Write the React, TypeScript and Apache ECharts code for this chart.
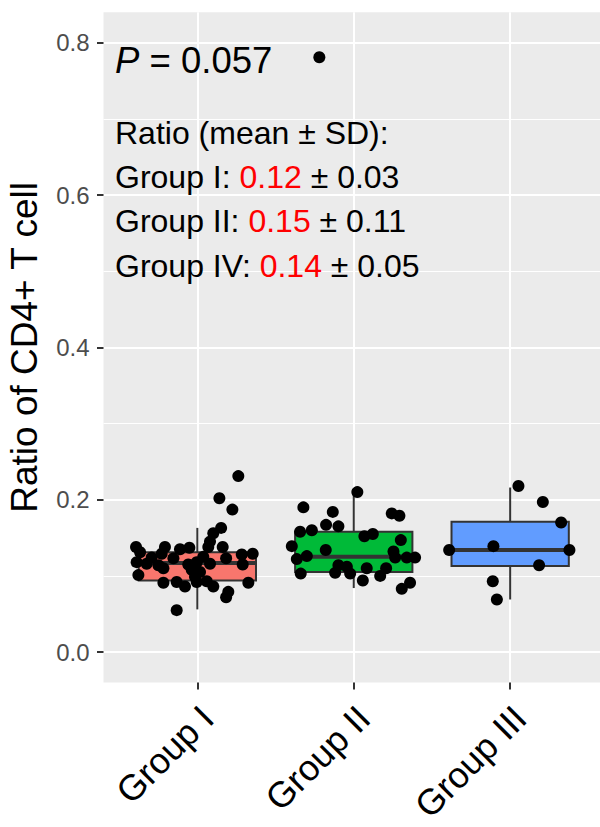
import React, { useEffect, useRef } from 'react';
import * as echarts from 'echarts';

// ---------- data ----------
const categories = ['Group I', 'Group II', 'Group III'];
const categoryPositions = [1, 2, 3];
const yTicks = [0, 0.2, 0.4, 0.6, 0.8];
const yMinorTicks = [0.1, 0.3, 0.5, 0.7];

const boxLow = [0.056, 0.084, 0.069];
const boxQ1 = [0.094, 0.105, 0.113];
const boxMedian = [0.117, 0.125, 0.134];
const boxQ3 = [0.131, 0.158, 0.171];
const boxHigh = [0.163, 0.21, 0.216];

// [jittered x position, ratio]
const groupIPoints = [
  [1.262, 0.231], [1.141, 0.202], [1.224, 0.187], [1.152, 0.163], [1.102, 0.156],
  [1.081, 0.145], [1.07, 0.138], [1.162, 0.138], [0.608, 0.138], [0.634, 0.131],
  [0.793, 0.138], [0.889, 0.135], [0.949, 0.137], [0.772, 0.129], [1.354, 0.129],
  [1.284, 0.128], [1.184, 0.123], [1.038, 0.125], [0.708, 0.124], [0.847, 0.123],
  [0.612, 0.118], [0.676, 0.116], [0.751, 0.114], [0.942, 0.115], [0.996, 0.118],
  [1.081, 0.116], [1.29, 0.115], [0.783, 0.11], [0.964, 0.108], [1.017, 0.105],
  [0.623, 0.101], [0.985, 0.099], [0.783, 0.091], [0.868, 0.092], [0.921, 0.086],
  [0.996, 0.092], [1.06, 0.093], [1.102, 0.086], [1.326, 0.091], [1.198, 0.079],
  [1.184, 0.072], [0.868, 0.055],
];
const groupIIPoints = [
  [2.023, 0.21], [1.678, 0.19], [1.866, 0.184], [2.243, 0.182], [2.292, 0.179],
  [1.823, 0.167], [1.902, 0.165], [1.657, 0.158], [1.732, 0.16], [2.068, 0.152],
  [2.122, 0.155], [2.301, 0.147], [1.604, 0.139], [1.821, 0.134], [2.254, 0.132],
  [1.636, 0.122], [1.7, 0.126], [2.265, 0.124], [2.339, 0.124], [2.392, 0.124],
  [1.902, 0.114], [1.956, 0.112], [2.083, 0.11], [2.207, 0.11], [1.661, 0.103],
  [1.881, 0.104], [1.977, 0.103], [2.169, 0.1], [2.058, 0.094], [2.36, 0.091],
  [2.307, 0.083], [1.78, 0.781],
];
const groupIIIPoints = [
  [3.053, 0.218], [3.209, 0.197], [3.326, 0.17], [2.61, 0.134], [2.893, 0.139],
  [3.379, 0.134], [3.185, 0.114], [2.889, 0.093], [2.915, 0.069],
];

const pValue = '0.057';
const summaryTitle = 'Ratio (mean ± SD):';
const summaryLabels = ['Group I', 'Group II', 'Group IV'];
const summaryMeans = ['0.12', '0.15', '0.14'];
const summarySDs = ['0.03', '0.11', '0.05'];

// ---------- styles ----------
const FONT = '"Liberation Sans", Arial, Helvetica, sans-serif';
const boxFills = ['#F8766D', '#00BA38', '#619CFF'];
const BOX_WIDTH = 0.75;

export default function App() {
  const ref = useRef<HTMLDivElement>(null);

  useEffect(() => {
    if (!ref.current) return;
    const chart = echarts.init(ref.current, undefined, { renderer: 'svg' });

    const boxData = categories.map((_, i) => [
      categoryPositions[i], boxLow[i], boxQ1[i], boxMedian[i], boxQ3[i], boxHigh[i],
    ]);
    const allPoints = [...groupIPoints, ...groupIIPoints, ...groupIIIPoints];

    const summaryLines = summaryLabels.map(
      (lab, i) => `${lab}: {r|${summaryMeans[i]}} ± ${summarySDs[i]}`
    );
    const lineYs = [176.5, 221, 265.5];
    const TXT = 32;

    const option: any = {
      animation: false,
      textStyle: { fontFamily: FONT },
      grid: {
        left: 103.5,
        right: -4,
        top: 12.3,
        bottom: 144.5,
        show: true,
        backgroundColor: '#EBEBEB',
        borderWidth: 0,
        containLabel: false,
        outerBoundsMode: 'none',
      },
      xAxis: {
        type: 'value',
        min: 0.4,
        max: 3.6,
        position: 'bottom',
        axisLine: { show: false, onZero: false },
        axisTick: {
          show: true,
          customValues: categoryPositions,
          length: 7,
          lineStyle: { color: '#333333', width: 2 },
        },
        axisLabel: {
          show: true,
          customValues: categoryPositions,
          formatter: (v: number) => categories[Math.round(v) - 1] ?? '',
          rotate: 45,
          fontSize: 36,
          color: '#000000',
          fontFamily: FONT,
          align: 'right',
          verticalAlign: 'top',
          margin: 14,
          padding: [0, 4, 0, 0],
        },
        splitLine: { show: true, lineStyle: { color: '#FFFFFF', width: 2 } },
      },
      yAxis: [
        {
          type: 'value',
          min: -0.04,
          max: 0.84,
          position: 'left',
          name: 'Ratio of CD4+ T cell',
          nameLocation: 'middle',
          nameRotate: 90,
          nameGap: 61,
          nameTextStyle: { fontSize: 37, color: '#000000', fontFamily: FONT },
          axisLine: { show: false, onZero: false },
          axisTick: {
            show: true,
            customValues: yTicks,
            length: 6.5,
            lineStyle: { color: '#333333', width: 2 },
          },
          axisLabel: {
            show: true,
            customValues: yTicks,
            formatter: (v: number) => v.toFixed(1),
            fontSize: 24,
            color: '#4D4D4D',
            fontFamily: FONT,
            margin: 14,
          },
          splitLine: { show: true, lineStyle: { color: '#FFFFFF', width: 2 } },
          z: 2,
        },
        {
          type: 'value',
          min: -0.04,
          max: 0.84,
          position: 'left',
          axisLine: { show: false, onZero: false },
          axisTick: { show: false, customValues: yMinorTicks },
          axisLabel: { show: false, customValues: yMinorTicks },
          splitLine: { show: true, lineStyle: { color: '#FFFFFF', width: 1.1 } },
          z: 1,
        },
      ],
      series: [
        {
          type: 'custom',
          xAxisIndex: 0,
          yAxisIndex: 0,
          z: 3,
          encode: { x: 0, y: [1, 2, 3, 4, 5] },
          data: boxData,
          renderItem: (params: any, api: any) => {
            const x = api.value(0);
            const lo = api.value(1);
            const q1 = api.value(2);
            const md = api.value(3);
            const q3 = api.value(4);
            const hi = api.value(5);
            const hw = BOX_WIDTH / 2;
            const pLo = api.coord([x, lo]);
            const pHi = api.coord([x, hi]);
            const pQ1 = api.coord([x - hw, q1]);
            const pQ3 = api.coord([x + hw, q3]);
            const pML = api.coord([x - hw, md]);
            const pMR = api.coord([x + hw, md]);
            const stroke = '#333333';
            return {
              type: 'group',
              children: [
                {
                  type: 'line',
                  shape: { x1: pHi[0], y1: pHi[1], x2: pHi[0], y2: pQ3[1] },
                  style: { stroke, lineWidth: 2 },
                },
                {
                  type: 'line',
                  shape: { x1: pLo[0], y1: pQ1[1], x2: pLo[0], y2: pLo[1] },
                  style: { stroke, lineWidth: 2 },
                },
                {
                  type: 'rect',
                  shape: {
                    x: pQ1[0],
                    y: pQ3[1],
                    width: pQ3[0] - pQ1[0],
                    height: pQ1[1] - pQ3[1],
                  },
                  style: { fill: boxFills[params.dataIndex], stroke, lineWidth: 2 },
                },
                {
                  type: 'line',
                  shape: { x1: pML[0], y1: pML[1], x2: pMR[0], y2: pMR[1] },
                  style: { stroke, lineWidth: 4 },
                },
              ],
            };
          },
        },
        {
          type: 'scatter',
          xAxisIndex: 0,
          yAxisIndex: 0,
          z: 4,
          symbol: 'circle',
          symbolSize: 12,
          itemStyle: { color: '#000000', opacity: 1 },
          data: allPoints,
        },
      ],
      graphic: [
        {
          type: 'text',
          x: 115,
          y: 60,
          z: 10,
          style: {
            text: `{i|P} = ${pValue}`,
            fill: '#000000',
            fontSize: 36.5,
            fontFamily: FONT,
            verticalAlign: 'middle',
            align: 'left',
            rich: {
              i: { fontStyle: 'italic', fontSize: 36.5, fontFamily: FONT, fill: '#000000' },
            },
          },
        },
        {
          type: 'text',
          x: 115,
          y: 133,
          z: 10,
          style: {
            text: summaryTitle,
            fill: '#000000',
            fontSize: TXT,
            fontFamily: FONT,
            verticalAlign: 'middle',
            align: 'left',
          },
        },
        ...summaryLines.map((t, i) => ({
          type: 'text',
          x: 115,
          y: lineYs[i],
          z: 10,
          style: {
            text: t,
            fill: '#000000',
            fontSize: TXT,
            fontFamily: FONT,
            verticalAlign: 'middle',
            align: 'left',
            rich: {
              r: { fill: '#FF0000', fontSize: TXT, fontFamily: FONT },
            },
          },
        })),
      ],
    };

    chart.setOption(option);
    return () => chart.dispose();
  }, []);

  return (
    <div
      ref={ref}
      style={{ position: 'absolute', left: 0, top: 0, width: 600, height: 827, background: '#FFFFFF' }}
    />
  );
}
